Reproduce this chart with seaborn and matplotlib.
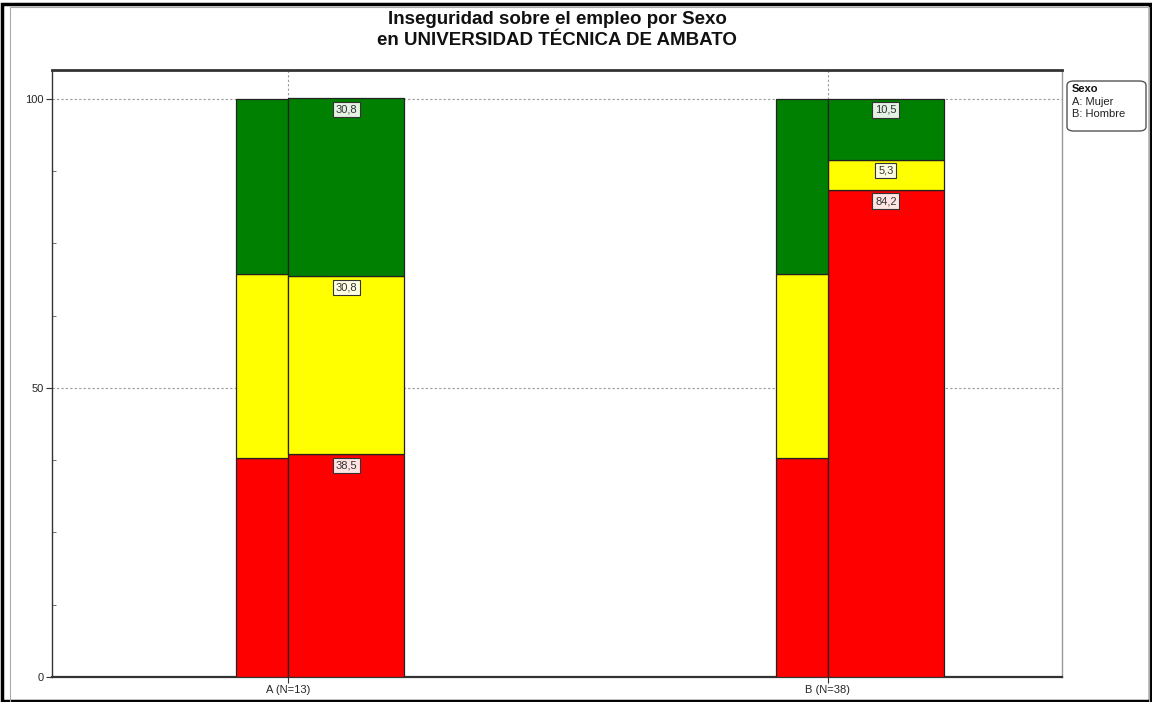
import matplotlib
matplotlib.use("Agg")
import matplotlib.pyplot as plt
import seaborn as sns
import numpy as np
from matplotlib.patches import Rectangle, FancyBboxPatch
from matplotlib.ticker import MultipleLocator

# ---- data ----
categories = ["A (N=13)", "B (N=38)"]
levels = ["rojo", "amarillo", "verde"]
group_red = [38.5, 84.2]
group_yellow = [30.8, 5.3]
group_green = [30.8, 10.5]
overall_red = [37.8, 37.8]
overall_yellow = [31.9, 31.9]
overall_green = [30.3, 30.3]
legend_title = "Sexo"
legend_entries = ["A: Mujer", "B: Hombre"]
title_text = "Inseguridad sobre el empleo por Sexo\nen UNIVERSIDAD TÉCNICA DE AMBATO"

colors = ["#FF0000", "#FFFF00", "#008000"]
label_bg = ["#FFE4E4", "#FFFFE4", "#E4F2E4"]

sns.set_theme(style="white")
plt.rcParams["font.family"] = ["Liberation Sans", "DejaVu Sans"]

fig = plt.figure(figsize=(11.52, 7.02), dpi=100)
ax = fig.add_axes([52/1152, 1-677/702, (1062-52)/1152, (677-70)/702])

x = np.arange(len(categories))
narrow = 0.0965
wide = 0.215

group_layers = [group_red, group_yellow, group_green]
overall_layers = [overall_red, overall_yellow, overall_green]

bottom_o = np.zeros(len(categories))
bottom_g = np.zeros(len(categories))
for i in range(3):
    ov = np.array(overall_layers[i])
    gv = np.array(group_layers[i])
    ax.bar(x - narrow, ov, width=narrow, bottom=bottom_o, align="edge",
           color=colors[i], edgecolor="#222222", linewidth=0.9, zorder=3)
    ax.bar(x, gv, width=wide, bottom=bottom_g, align="edge",
           color=colors[i], edgecolor="#222222", linewidth=0.9, zorder=3)
    for j in range(len(categories)):
        top = bottom_g[j] + gv[j]
        ax.text(x[j] + wide/2, top - 1.9, f"{gv[j]:.1f}".replace(".", ","),
                ha="center", va="center", fontsize=8, color="#333333", zorder=5,
                bbox=dict(boxstyle="square,pad=0.25", facecolor=label_bg[i],
                          edgecolor="#333333", linewidth=0.8))
    bottom_o += ov
    bottom_g += gv

ax.set_xlim(-0.438, 1.434)
ax.set_ylim(0, 105)
ax.set_xticks(x)
ax.set_xticklabels(categories, fontsize=8)
ax.set_yticks([0, 50, 100])
ax.set_yticklabels(["0", "50", "100"], fontsize=8)
ax.yaxis.set_minor_locator(MultipleLocator(12.5))
ax.tick_params(axis="both", which="major", direction="out", length=4, width=0.8,
               color="#333333", pad=2, left=True, bottom=True)
ax.tick_params(axis="y", which="minor", direction="in", length=3, width=0.6,
               color="#555555", left=True)

for yv in [50, 100]:
    ax.axhline(yv, color="#999999", linestyle=(0, (2, 2)), linewidth=0.8, zorder=1)
for xv in x:
    ax.axvline(xv, color="#999999", linestyle=(0, (2, 2)), linewidth=0.8, zorder=1)

for side in ["left", "bottom", "top", "right"]:
    ax.spines[side].set_visible(True)
    ax.spines[side].set_color("#333333")
    ax.spines[side].set_linewidth(1.0)
ax.spines["top"].set_linewidth(2.0)
ax.spines["bottom"].set_linewidth(1.6)
ax.spines["right"].set_color("#999999")

fig.text((52+1062)/2/1152, 1-30/702, title_text, ha="center", va="center",
         fontsize=13.5, fontweight="bold", color="#111111", linespacing=1.25)

# legend box
leg = FancyBboxPatch((1067/1152, 1-131/702), 79/1152, 50/702,
                     boxstyle="round,pad=0,rounding_size=0.006",
                     transform=fig.transFigure, facecolor="white",
                     edgecolor="#555555", linewidth=1.0)
fig.add_artist(leg)
fig.text(1072/1152, 1-89/702, legend_title, fontsize=8, fontweight="bold",
         va="center", ha="left", color="#111111")
for k, e in enumerate(legend_entries):
    fig.text(1072/1152, 1-(102+12*k)/702, e, fontsize=8, va="center", ha="left",
             color="#222222")

# outer frame
fig.add_artist(Rectangle((0.002, 0.002), 0.996, 0.993, transform=fig.transFigure,
                         fill=False, edgecolor="black", linewidth=2.5))
fig.add_artist(Rectangle((0.009, 0.0), 0.988, 0.99, transform=fig.transFigure,
                         fill=False, edgecolor="#aaaaaa", linewidth=0.8))

fig.savefig("out.png", dpi=100)
